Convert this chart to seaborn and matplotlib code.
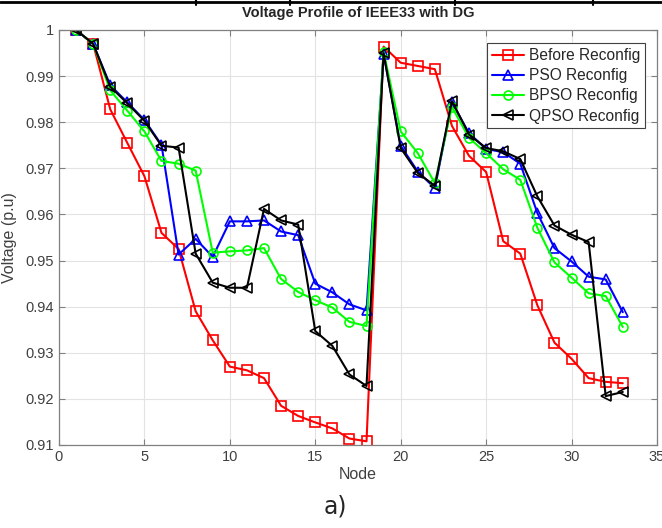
import matplotlib
matplotlib.use("Agg")
import matplotlib.pyplot as plt
from matplotlib.lines import Line2D
import numpy as np
import pandas as pd
import seaborn as sns

# Node voltages (p.u), IEEE33 with DG
NODES = list(range(1, 34))
BEFORE = [1.0, 0.997, 0.9828, 0.9755, 0.9683, 0.956, 0.9525, 0.939, 0.9327, 0.927,
          0.9262, 0.9245, 0.9185, 0.9163, 0.9149, 0.9136, 0.9114, 0.9108, 0.9964, 0.9929,
          0.9922, 0.9915, 0.9792, 0.9727, 0.9692, 0.9542, 0.9515, 0.9403, 0.9322, 0.9287,
          0.9245, 0.9237, 0.9234]
PSO = [1.0, 0.997, 0.988, 0.9843, 0.9805, 0.9751, 0.9513, 0.9547, 0.9508, 0.9585,
       0.9585, 0.9587, 0.9563, 0.9555, 0.945, 0.9431, 0.9405, 0.9392, 0.9947, 0.9749,
       0.9693, 0.9657, 0.9843, 0.9776, 0.9742, 0.9735, 0.971, 0.9603, 0.9527, 0.9498,
       0.9465, 0.9459, 0.9388]
BPSO = [1.0, 0.997, 0.9869, 0.9825, 0.978, 0.9716, 0.971, 0.9695, 0.9517, 0.952,
        0.9522, 0.9527, 0.946, 0.9432, 0.9414, 0.9398, 0.9367, 0.9358, 0.9953, 0.978,
        0.9733, 0.9668, 0.9833, 0.9766, 0.9733, 0.9698, 0.9675, 0.9571, 0.9496, 0.9463,
        0.9429, 0.9423, 0.9356]
QPSO = [1.0, 0.997, 0.9877, 0.9841, 0.9803, 0.9749, 0.9745, 0.9515, 0.9452, 0.9441,
        0.9441, 0.9612, 0.9587, 0.9578, 0.9347, 0.9315, 0.9253, 0.9228, 0.995, 0.9744,
        0.969, 0.9662, 0.9846, 0.9773, 0.9744, 0.9737, 0.972, 0.9639, 0.9576, 0.9556,
        0.954, 0.9206, 0.9215]

SERIES = [
    ("Before Reconfig", BEFORE, "#ff0000", "s"),
    ("PSO Reconfig", PSO, "#0000ff", "^"),
    ("BPSO Reconfig", BPSO, "#00ff00", "o"),
    ("QPSO Reconfig", QPSO, "#000000", "<"),
]

sns.set_style("whitegrid")
plt.rcParams['font.family'] = ['Liberation Sans', 'DejaVu Sans']

fig = plt.figure(figsize=(6.62, 5.28), dpi=100)
ax = fig.add_axes([0.0891, 0.1572, 0.9033, 0.786])

for name, vals, col, mk in SERIES:
    df = pd.DataFrame({"Node": NODES, "Voltage": vals})
    sns.lineplot(data=df, x="Node", y="Voltage", ax=ax, color=col, marker=mk,
                 markersize=6.5, markerfacecolor="none", markeredgecolor=col,
                 markeredgewidth=1.2, linewidth=1.5, label=name)

yt = np.round(np.arange(0.91, 1.0001, 0.01), 2)
ax.set_xlim(0, 35)
ax.set_ylim(0.91, 1.0)
ax.set_xticks(np.arange(0, 36, 5))
ax.set_yticks(yt)
ax.set_yticklabels([f"{v:g}" for v in yt])
ax.tick_params(direction="in", length=4, labelsize=10.5, labelcolor="#404040",
               color="#808080", top=True, right=True, bottom=True, left=True)
ax.grid(True, color="#e3e3e3", linewidth=0.8)
for s in ax.spines.values():
    s.set_color("#808080")
    s.set_linewidth(0.9)

ax.set_xlabel("Node", fontsize=11.5, color="#404040", labelpad=2)
ax.set_ylabel("Voltage (p.u)", fontsize=11.5, color="#404040", labelpad=6)
ax.set_title("Voltage Profile of IEEE33 with DG", fontsize=10.5, fontweight="bold", pad=9)

leg = ax.legend(loc="upper right", bbox_to_anchor=(0.985, 0.975), fontsize=11.2,
                frameon=True, fancybox=False, framealpha=1, edgecolor="#404040",
                borderpad=0.3, labelspacing=0.33, handlelength=2.1, handletextpad=0.3,
                borderaxespad=0.2)
leg.get_frame().set_linewidth(0.8)

# fragment of the table border at the top of the page
fig.add_artist(Line2D([0, 1], [0.996, 0.996], transform=fig.transFigure, color="black", lw=2))
for xp in [196, 290, 455, 593]:
    fig.add_artist(Line2D([xp / 662, xp / 662], [0.99, 1.0], transform=fig.transFigure,
                          color="black", lw=1.5))

fig.text(0.506, 0.04, "a)", ha="center", va="center", fontsize=17,
         family=["Liberation Sans Narrow", "DejaVu Sans"])

fig.savefig("out.png", dpi=100)
